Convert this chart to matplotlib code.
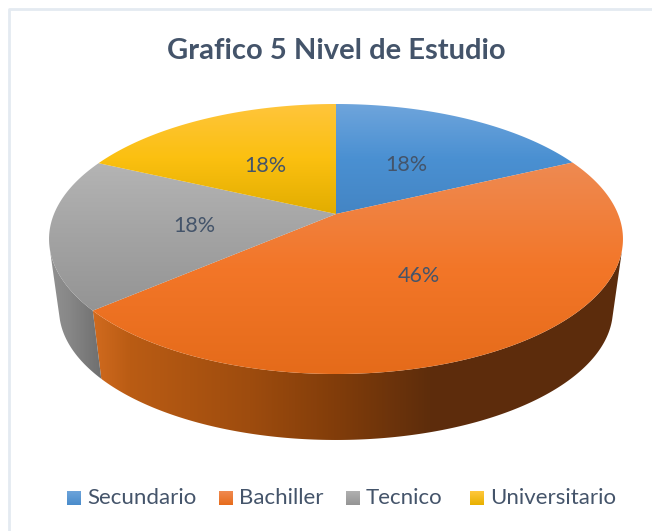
import numpy as np
import matplotlib
matplotlib.use("Agg")
import matplotlib.pyplot as plt
from matplotlib.patches import Polygon, Rectangle
from matplotlib.colors import LinearSegmentedColormap

title = "Grafico 5 Nivel de Estudio"
categories = ["Secundario", "Bachiller", "Tecnico", "Universitario"]
values = [18, 45.7, 18.2, 18.1]

# top face gradient per slice, from top to bottom
face_cols = [
    ["#6FA5DC", "#4A90D2", "#4485C4"],
    ["#EE8A52", "#F37628", "#E56B1A"],
    ["#B4B4B4", "#A3A3A3", "#949494"],
    ["#FFC53C", "#FBC010", "#E2AD00"],
]
swatch_cols = [
    ["#6CA3DA", "#4A8CCB"],
    ["#F08A50", "#E76C1C"],
    ["#B0B0B0", "#959595"],
    ["#FFC83C", "#E8B000"],
]
text_col = "#44546A"

# perspective view of the disc, in pixels
cx, cy = 336, 214
dx, a, c = 282, -90.74, 0.1852
ell_y = 239
shrink, drop = 0.965, 70.7


def project(ang, r=1.0):
    u = r * np.sin(ang)
    v = r * np.cos(ang)
    d = 1 + c * v
    return cx + dx * u / d, (a * v + cy) / d


def lower(x, y):
    return cx + (x - cx) * shrink, ell_y + (y - ell_y) * shrink + drop


def side_image(slice_i):
    x = np.arange(0, 652)
    if slice_i == 1:
        rgb = [np.interp(x, [95, 130, 250, 340, 430, 630], p) for p in
               ([208, 186, 158, 128, 94, 92], [106, 92, 76, 60, 45, 44], [30, 20, 14, 10, 12, 12])]
    else:
        g = np.interp(x, [50, 70, 100], [145, 135, 112])
        rgb = [g, g, g]
    return np.dstack(rgb).astype(np.uint8)


fig = plt.figure(figsize=(6.52, 5.31), dpi=100)
ax = fig.add_axes([0, 0, 1, 1])
plt.rcParams["font.family"] = ["Lato", "DejaVu Sans"]

# chart frame, only left and top show
ax.plot([9, 9, 652], [531, 9, 9], color="#E4EAF1", lw=2, zorder=1)

edges = np.cumsum([0] + values) / sum(values) * 2 * np.pi

# where the wall stops being visible on each side of the disc
grid = np.linspace(np.pi / 2, 3 * np.pi / 2, 2000)
gx, gy = project(grid)
lx, ly = lower(gx, gy)
cross = np.gradient(gx) * (ly - gy) - np.gradient(gy) * (lx - gx)
vis = grid[cross * cross[1000] > 0]
start, stop = vis.min(), vis.max()

# side wall, only orange and grey face the viewer
for i in [1, 2]:
    angs = np.linspace(max(edges[i], start), min(edges[i + 1], stop), 400)
    xs, ys = project(angs)
    xb, yb = lower(xs, ys)
    poly = Polygon(np.column_stack([np.r_[xs, xb[::-1]], np.r_[ys, yb[::-1]]]), closed=True,
                   fc="none", ec="none", zorder=2)
    ax.add_patch(poly)
    im = ax.imshow(side_image(i), aspect="auto", extent=[0, 652, 531, 0], zorder=2,
                   interpolation="bilinear")
    im.set_clip_path(poly)

# top face, gradient clipped to each slice
for i in range(len(values)):
    angs = np.linspace(edges[i], edges[i + 1], 300)
    xs, ys = project(angs)
    pts = np.column_stack([np.r_[cx, xs], np.r_[cy, ys]])
    poly = Polygon(pts, closed=True, fc="none", ec="none", zorder=3)
    ax.add_patch(poly)
    top, bot = min(ys.min(), cy), max(ys.max(), cy)
    cmap = LinearSegmentedColormap.from_list("f%d" % i, face_cols[i])
    im = ax.imshow(np.linspace(0, 1, 256).reshape(-1, 1), cmap=cmap, aspect="auto",
                   extent=[0, 652, bot, top], zorder=3, interpolation="bilinear")
    im.set_clip_path(poly)

# data labels at half radius
for i, val in enumerate(values):
    x, y = project((edges[i] + edges[i + 1]) / 2, 0.5)
    ax.text(x, y + 2.5, "%d%%" % round(val), fontsize=15.5, color=text_col, ha="center", va="center", zorder=5)

ax.text(336, 51, title, fontsize=21, fontweight="bold", color=text_col, ha="center", va="center", zorder=5)

# legend
sw_x = [67, 219, 346, 470]
for i, name in enumerate(categories):
    cmap = LinearSegmentedColormap.from_list("s%d" % i, swatch_cols[i])
    r = Rectangle((sw_x[i], 491), 14, 14, fc="none", ec="none", zorder=4)
    ax.add_patch(r)
    im = ax.imshow(np.linspace(0, 1, 32).reshape(-1, 1), cmap=cmap, aspect="auto",
                   extent=[sw_x[i], sw_x[i] + 14, 505, 491], zorder=4)
    im.set_clip_path(r)
    ax.text(sw_x[i] + 20, 498.5, name, fontsize=16, color=text_col, ha="left", va="center", zorder=5)

ax.set_xlim(0, 652)
ax.set_ylim(531, 0)
ax.axis("off")

fig.savefig("out.png", dpi=100, facecolor="white")
